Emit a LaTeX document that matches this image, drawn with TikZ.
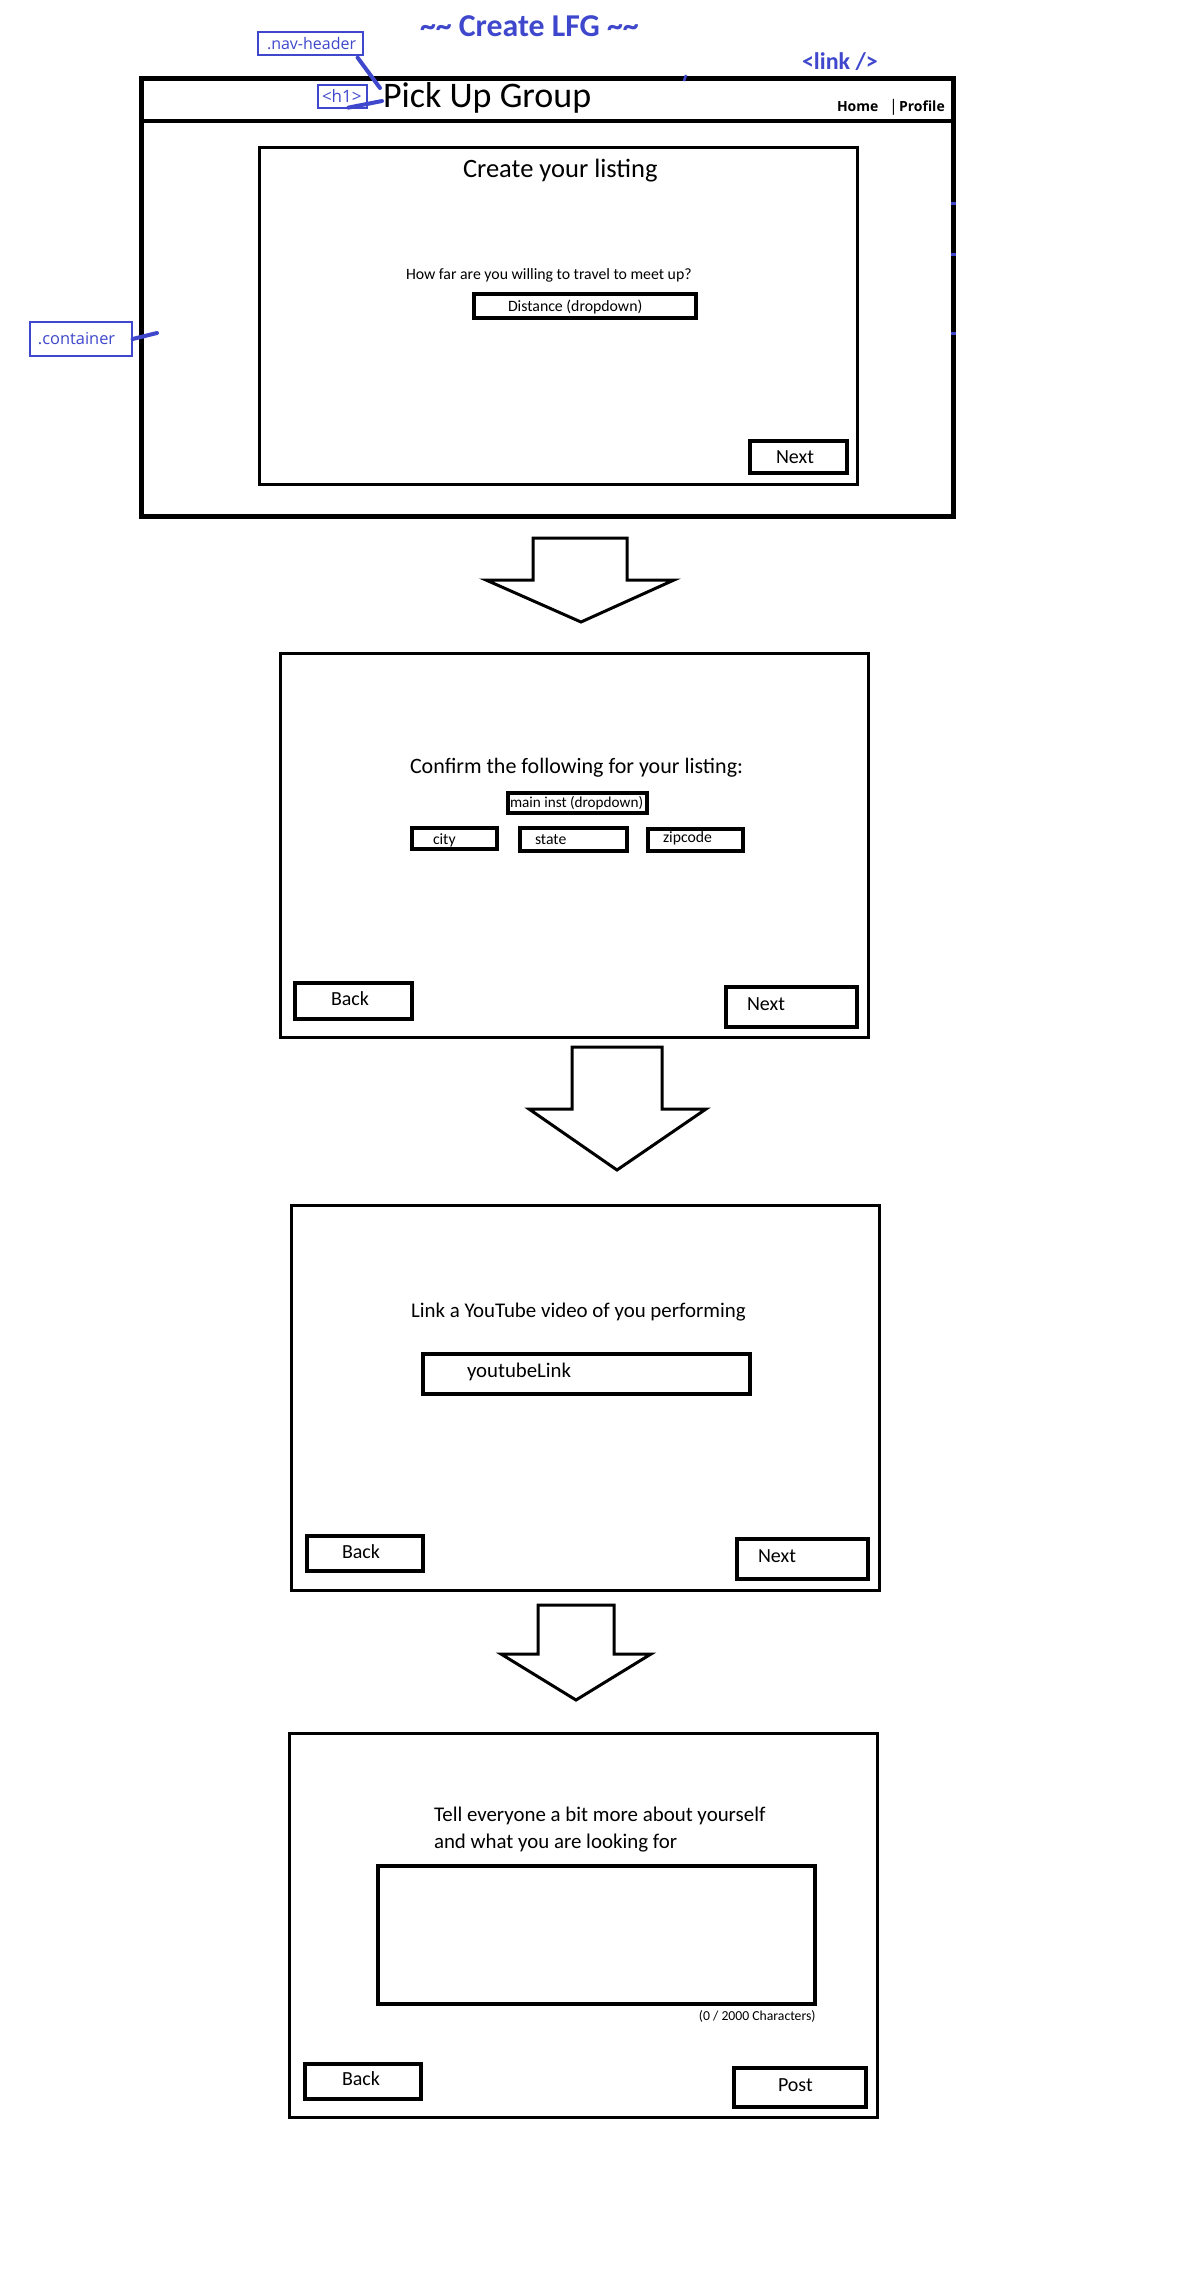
\documentclass[tikz,border=0pt]{standalone}
\usepackage{fontspec}
\setmainfont{Carlito}
\newfontfamily\uifont{Open Sans}
\usetikzlibrary{fit,calc}
\definecolor{indigo}{HTML}{3F48CC}
\newcommand\setfs[1]{\fontsize{#1}{#1}\selectfont}

\tikzset{
  frame/.style={draw, line width=1.5pt, inner sep=0pt},
  field/.style={draw, line width=1.6pt, inner sep=0pt},
  tag/.style={draw=indigo, line width=0.6pt, inner sep=0pt},
  txt/.style={anchor=base west, inner sep=0pt, outer sep=0pt},
  tagtxt/.style={txt, text=indigo, font=\uifont\setfs{8}},
  pointer/.style={indigo, line width=2pt, line cap=round},
  blockarrow/.style={draw, line width=1.5pt, line join=miter},
}

\begin{document}
\begin{tikzpicture}[x=0.5pt, y=-0.5pt]
\useasboundingbox (0,0) rectangle (1184,2292);
\fill[white] (0,0) rectangle (1184,2292);

% ---------- page title and annotations ----------
\node[txt, text=indigo, font=\bfseries\setfs{15.9}] (pagetitle) at (420,36) {\textasciitilde\textasciitilde{} Create LFG \textasciitilde\textasciitilde};
\node[txt, text=indigo, font=\bfseries\setfs{12}] (linktag) at (802,69) {<link />};

% ---------- screen 1: location ----------
\node[draw, line width=2.5pt, inner sep=0pt, fit={(141,78.5) (953.5,516.5)}] (container) {};
\draw[line width=2pt] (container.west |- 0,121) -- (container.east |- 0,121);
\node[txt, font=\setfs{18}] (brand) at (383,107) {Pick Up Group};
\node[txt, font=\uifont\bfseries\setfs{7}] (home) at (837,111) {Home};
\node[txt, font=\uifont\setfs{8}] (sep) at (889,111.5) {|};
\node[txt, font=\uifont\bfseries\setfs{7}] (profile) at (899,111) {Profile};

\node[frame, fit={(259,147) (857,484)}] (card1) {};
\node[txt, font=\setfs{13.25}] (head1) at (463,177) {Create your listing};
\node[txt, font=\setfs{7.9}] (ask1) at (406,279) {How far are you willing to travel to meet up?};
\node[field, fit={(474,294) (696,318)}] (distbox) {};
\node[txt, font=\setfs{7.9}] (dist) at (508,311) {Distance (dropdown)};
\node[field, line width=1.8pt, fit={(750,441) (847,473)}] (next1) {};
\node[txt, font=\setfs{10}] at (776,463) {Next};

% annotation tags
\node[tag, fit={(258,32) (363,55)}] (navtag) {};
\node[tagtxt] at (267,49) {.nav-header};
\coordinate (navend) at (380,88);
\draw[pointer] ($(navtag.south east)+(-6,2)$) -- (navend);

\node[tag, fit={(318,85) (367,108)}] (h1tag) {};
\node[tagtxt, font=\uifont\setfs{8.5}] at (322,102) {<h1>};
\coordinate (h1end) at (382,101);
\draw[pointer] ($(h1tag.south)+(6,-1)$) -- (h1end);

\node[tag, fit={(30,322) (132,356)}] (conttag) {};
\node[tagtxt, font=\uifont\setfs{8.2}] at (38,344) {.container};
\coordinate (contend) at (157,333);
\draw[pointer] (conttag.east) -- (contend);

% leftover marker stubs on the container border
\draw[indigo, line width=1.5pt] (951,203) -- (956,203);
\draw[indigo, line width=1.5pt] (951,254) -- (956,254);
\draw[indigo, line width=1.5pt] (951,333) -- (956,333);
\draw[indigo, line width=1.2pt] (686,75) -- (684,81);

% ---------- arrow 1 ----------
\draw[blockarrow] (533,538) -- (627,538) -- (627,580) -- (674,580) -- (581,622) -- (486,580) -- (533,580) -- cycle;

% ---------- screen 2: details ----------
\node[frame, fit={(280,653) (868,1037)}] (card2) {};
\node[txt, font=\setfs{11}] (head2) at (410,773) {Confirm the following for your listing:};
\node[field, fit={(508,793) (647,813)}] (instbox) {};
\node[txt, font=\setfs{7.6}] at (510,807.5) {main inst (dropdown)};
\node[field, fit={(412,828) (497,849)}] (citybox) {};
\node[txt, font=\setfs{7.85}] at (433,844) {city};
\node[field, fit={(520,828) (627,851)}] (statebox) {};
\node[txt, font=\setfs{7.85}] at (535,844) {state};
\node[field, fit={(648,829) (743,851)}] (zipbox) {};
\node[txt, font=\setfs{7.85}] at (663,842) {zipcode};
\node[field, fit={(295,983) (412,1019)}] (back2) {};
\node[txt, font=\setfs{10}] at (331,1005.5) {Back};
\node[field, fit={(726,987) (857,1027)}] (next2) {};
\node[txt, font=\setfs{10}] at (747,1010) {Next};

% ---------- arrow 2 ----------
\draw[blockarrow] (572,1047) -- (662,1047) -- (662,1109) -- (706,1109) -- (617,1170) -- (529,1109) -- (572,1109) -- cycle;

% ---------- screen 3: video ----------
\node[frame, fit={(291,1205) (879,1590)}] (card3) {};
\node[txt, font=\setfs{10.45}] (head3) at (411,1317.5) {Link a YouTube video of you performing};
\node[field, fit={(423,1354) (750,1394)}] (ytbox) {};
\node[txt, font=\setfs{10.4}] at (467,1377) {youtubeLink};
\node[field, fit={(307,1536) (423,1571)}] (back3) {};
\node[txt, font=\setfs{10}] at (342,1558.5) {Back};
\node[field, fit={(737,1539) (868,1579)}] (next3) {};
\node[txt, font=\setfs{10}] at (758,1562) {Next};

% ---------- arrow 3 ----------
\draw[blockarrow] (538,1605) -- (614,1605) -- (614,1654) -- (651,1654) -- (576,1700) -- (501,1654) -- (538,1654) -- cycle;

% ---------- screen 4: about ----------
\node[frame, fit={(289,1733) (877,2117)}] (card4) {};
\node[txt, font=\setfs{10.45}] (head4a) at (434,1821.5) {Tell everyone a bit more about yourself};
\node[txt, font=\setfs{10.45}] (head4b) at (434,1848) {and what you are looking for};
\node[field, fit={(378,1866) (815,2004)}] (aboutbox) {};
\node[anchor=base east, inner sep=0pt, font=\setfs{6.85}] (counter) at (816,2020.7) {(0 / 2000 Characters)};
\node[field, fit={(305,2064) (421,2099)}] (back4) {};
\node[txt, font=\setfs{10}] at (342,2085.6) {Back};
\node[field, fit={(734,2068) (866,2107)}] (post) {};
\node[txt, font=\setfs{10}] at (778,2091.6) {Post};

\end{tikzpicture}
\end{document}
